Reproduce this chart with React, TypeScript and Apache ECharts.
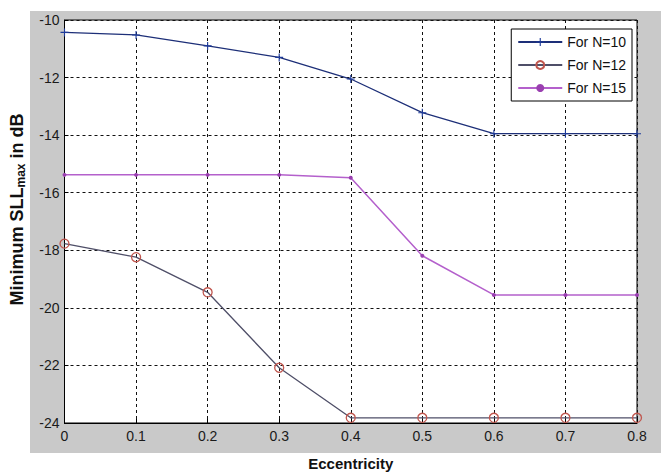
import React, { useEffect, useRef } from "react";
import * as echarts from "echarts";

const eccentricity = [0, 0.1, 0.2, 0.3, 0.4, 0.5, 0.6, 0.7, 0.8];
const n10 = [-10.43, -10.52, -10.9, -11.3, -12.05, -13.22, -13.95, -13.95, -13.95];
const n12 = [-17.77, -18.24, -19.46, -22.08, -23.82, -23.82, -23.82, -23.82, -23.82];
const n15 = [-15.38, -15.38, -15.38, -15.38, -15.48, -18.19, -19.55, -19.55, -19.55];
const seriesNames = ["For N=10", "For N=12", "For N=15"];

const FONT = "'Liberation Sans', Arial, sans-serif";
const STAR =
  "path://M4.3,0 L5.7,0 L5.7,4.3 L10,4.3 L10,5.7 L5.7,5.7 L5.7,10 L4.3,10 L4.3,5.7 L0,5.7 L0,4.3 L4.3,4.3 Z";

const pairs = (ys: number[]) => eccentricity.map((x, i) => [x, ys[i]]);

export default function App() {
  const ref = useRef<HTMLDivElement>(null);
  useEffect(() => {
    document.body.style.margin = "0";
    const chart = echarts.init(ref.current!, null, { renderer: "svg" });
    chart.setOption({
      animation: false,
      backgroundColor: "#fff",
      graphic: [
        {
          type: "rect",
          z: -10,
          silent: true,
          shape: { x: 30, y: 11, width: 631, height: 442 },
          style: { fill: "#c9c9c9" },
        },
      ],
      grid: {
        left: 57,
        top: 20,
        right: 24,
        bottom: 48,
        show: true,
        backgroundColor: "#fff",
        borderColor: "#000",
        borderWidth: 1,
      },
      legend: {
        orient: "vertical",
        right: 29,
        top: 29,
        data: seriesNames,
        itemWidth: 44,
        itemHeight: 10,
        itemGap: 9,
        backgroundColor: "#fff",
        borderColor: "#000",
        borderWidth: 1,
        padding: [6, 6, 6, 6],
        textStyle: { fontSize: 14, color: "#111", fontFamily: FONT },
      },
      xAxis: {
        type: "value",
        min: 0,
        max: 0.8,
        interval: 0.1,
        name: "Eccentricity",
        nameLocation: "middle",
        nameGap: 33,
        nameTextStyle: { fontSize: 15, fontWeight: "bold", color: "#111", fontFamily: FONT },
        axisLine: { show: true, lineStyle: { color: "#000" } },
        axisTick: { show: true, inside: true, length: 4, lineStyle: { color: "#000" } },
        axisLabel: { fontSize: 14, color: "#1a1a1a", fontFamily: FONT, margin: 6 },
        splitLine: { show: true, lineStyle: { color: "#111", type: [3, 3], width: 1 } },
      },
      yAxis: {
        type: "value",
        min: -24,
        max: -10,
        interval: 2,
        name: "Minimum SLL{sub|max} in dB",
        nameLocation: "middle",
        nameRotate: 90,
        nameGap: 38,
        nameTextStyle: {
          fontSize: 18,
          fontWeight: "bold",
          color: "#111",
          fontFamily: FONT,
          padding: [0, 0, 0, 24],
          rich: {
            sub: { fontSize: 12, fontWeight: "bold", color: "#111", fontFamily: FONT, padding: [7, 0, 0, 0] },
          },
        },
        axisLine: { show: true, lineStyle: { color: "#000" } },
        axisTick: { show: true, inside: true, length: 4, lineStyle: { color: "#000" } },
        axisLabel: { fontSize: 14, color: "#1a1a1a", fontFamily: FONT, margin: 5 },
        splitLine: { show: true, lineStyle: { color: "#111", type: [3, 3], width: 1 } },
      },
      series: [
        {
          name: seriesNames[0],
          type: "line",
          data: pairs(n10),
          symbol: STAR,
          symbolSize: 8,
          color: "#1d2f78",
          lineStyle: { color: "#1d2f78", width: 1.3 },
          itemStyle: { color: "#1d3a9a" },
        },
        {
          name: seriesNames[1],
          type: "line",
          data: pairs(n12),
          symbol: "circle",
          symbolSize: 9,
          color: "#c0564e",
          lineStyle: { color: "#4f4f68", width: 1.3 },
          itemStyle: { color: "rgba(0,0,0,0)", borderColor: "#c0564e", borderWidth: 1.3 },
        },
        {
          name: seriesNames[2],
          type: "line",
          data: pairs(n15),
          symbol: "circle",
          symbolSize: 4,
          color: "#b460cc",
          lineStyle: { color: "#b460cc", width: 1.5 },
          itemStyle: { color: "#9a3fb0" },
        },
      ],
    });
    return () => chart.dispose();
  }, []);
  return <div ref={ref} style={{ width: 661, height: 476 }} />;
}
